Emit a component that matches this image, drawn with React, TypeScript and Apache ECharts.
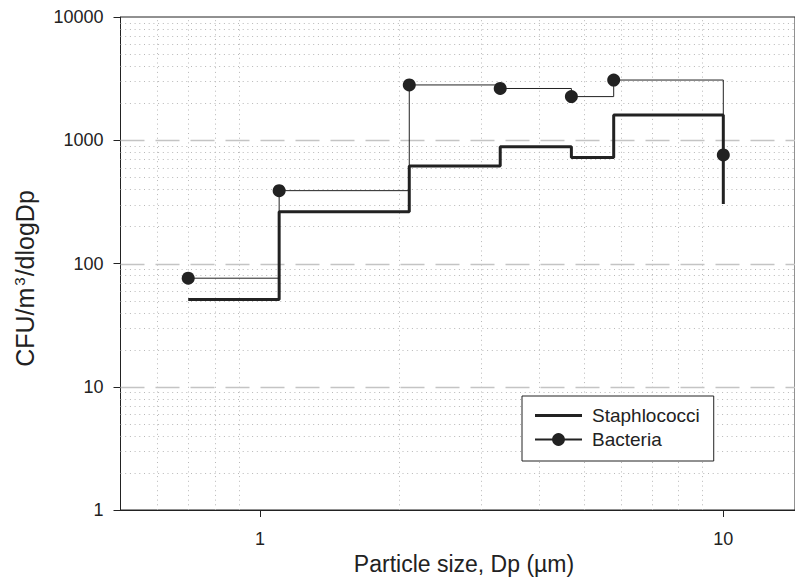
import React, { useEffect, useRef } from "react";
import * as echarts from "echarts";

// ---- data ----
const sizeEdges = [0.7, 1.1, 2.1, 3.3, 4.7, 5.8, 10];
const staphValues = [51, 263, 618, 885, 725, 1603, 304];
const bacteriaValues = [76, 390, 2810, 2630, 2260, 3080, 760];
const seriesNames = ["Staphlococci", "Bacteria"];
const xTickValues = [1, 10];
const xMinorGrid = [0.6, 0.7, 0.8, 0.9, 2, 3, 4, 5, 6, 7, 8, 9];
const yMinorGrid = [
  2, 3, 4, 5, 6, 7, 8, 9,
  20, 30, 40, 50, 60, 70, 80, 90,
  200, 300, 400, 500, 600, 700, 800, 900,
  2000, 3000, 4000, 5000, 6000, 7000, 8000, 9000,
];
const yMajorGrid = [10, 100, 1000];

const X_MIN = 0.5;
const X_MAX = 14.28;
const Y_MIN = 1;
const Y_MAX = 10000;

const FONT = "'Liberation Sans', Arial, Helvetica, sans-serif";
const INK = "#222";

const isPow10 = (v: number) => {
  const l = Math.log10(v);
  return Math.abs(l - Math.round(l)) < 1e-6;
};

const snap = (v: number) => Math.round(v) + 0.5;

export default function App() {
  const ref = useRef<HTMLDivElement>(null);

  useEffect(() => {
    if (!ref.current) return;
    const chart = echarts.init(ref.current, undefined, { renderer: "svg" });

    const vLine = (stroke: string, dash: number[]) => (params: any, api: any) => {
      const v = api.value(0);
      const p1 = api.coord([v, Y_MIN]);
      const p2 = api.coord([v, Y_MAX]);
      const x = snap(p1[0]);
      return {
        type: "line",
        silent: true,
        shape: { x1: x, y1: p1[1], x2: x, y2: p2[1] },
        style: { stroke, lineWidth: 1, lineDash: dash },
      };
    };
    const hLine = (stroke: string, dash: number[], width: number) => (params: any, api: any) => {
      const v = api.value(1);
      const p1 = api.coord([X_MIN, v]);
      const p2 = api.coord([X_MAX, v]);
      const y = snap(p1[1]);
      return {
        type: "line",
        silent: true,
        shape: { x1: p1[0], y1: y, x2: p2[0], y2: y },
        style: { stroke, lineWidth: width, lineDash: dash },
      };
    };
    const xTick = (params: any, api: any) => {
      const v = api.value(0);
      const p = api.coord([v, Y_MIN]);
      const x = snap(p[0]);
      return {
        type: "line",
        silent: true,
        shape: { x1: x, y1: p[1], x2: x, y2: p[1] + 7 },
        style: { stroke: INK, lineWidth: 1 },
      };
    };

    chart.setOption({
      animation: false,
      backgroundColor: "#fff",
      textStyle: { fontFamily: FONT },
      grid: {
        left: 120.5,
        top: 17,
        width: 674.5,
        height: 493,
        containLabel: false,
        outerBoundsMode: "none",
        show: true,
        borderColor: INK,
        borderWidth: 1,
        backgroundColor: "transparent",
      },
      xAxis: {
        type: "log",
        logBase: 10,
        min: X_MIN,
        max: X_MAX,
        name: "Particle size, Dp (µm)",
        nameLocation: "middle",
        nameGap: 40,
        nameTextStyle: { fontSize: 23, color: INK, fontFamily: FONT, padding: [0, 0, 0, 12.5] },
        axisLine: { show: true, lineStyle: { color: INK, width: 1 } },
        axisTick: { show: false },
        splitLine: { show: false },
        axisLabel: {
          fontSize: 18,
          color: INK,
          fontFamily: FONT,
          margin: 20,
          formatter: (v: number) => (isPow10(v) ? String(Math.round(v)) : ""),
        },
      },
      yAxis: {
        type: "log",
        logBase: 10,
        min: Y_MIN,
        max: Y_MAX,
        axisLine: { show: true, lineStyle: { color: INK, width: 1 } },
        axisTick: { show: true, length: 7, lineStyle: { color: INK, width: 1 } },
        splitLine: { show: false },
        axisLabel: {
          fontSize: 18,
          color: INK,
          fontFamily: FONT,
          margin: 17,
          formatter: (v: number) => String(Math.round(v)),
        },
      },
      legend: {
        data: [
          { name: seriesNames[0], icon: "path://M0,0L47,0L47,3L0,3Z" },
          { name: seriesNames[1] },
        ],
        orient: "vertical",
        left: 522,
        top: 396,
        z: 10,
        padding: [10, 14, 12, 12],
        itemGap: 5,
        itemWidth: 47,
        itemHeight: 16,
        symbolKeepAspect: true,
        backgroundColor: "#fff",
        borderColor: INK,
        borderWidth: 1,
        borderRadius: 0,
        textStyle: { fontSize: 19, color: INK, fontFamily: FONT, padding: [0, 0, 0, 5] },
      },
      graphic: [
        {
          type: "text",
          x: 25,
          y: 278.5,
          rotation: Math.PI / 2,
          style: {
            text: "CFU/m{sup|3}/dlogDp",
            fontSize: 25,
            fontFamily: FONT,
            fill: INK,
            align: "center",
            verticalAlign: "middle",
            textAlign: "center",
            textVerticalAlign: "middle",
            rich: {
              sup: {
                fontSize: 15,
                fontFamily: FONT,
                fill: INK,
                padding: [0, 1, 12, 2],
              },
            },
          },
        },
      ],
      series: [
        {
          name: "xMinor",
          type: "custom",
          z: 1,
          silent: true,
          renderItem: vLine("#b8b8b8", [1, 3.7]),
          data: xMinorGrid.map((v) => [v, Y_MIN]),
          encode: { x: 0, y: 1 },
        },
        {
          name: "yMinor",
          type: "custom",
          z: 1,
          silent: true,
          renderItem: hLine("#b8b8b8", [1, 3.7], 1),
          data: yMinorGrid.map((v) => [X_MIN, v]),
          encode: { x: 0, y: 1 },
        },
        {
          name: "yMajor",
          type: "custom",
          z: 1,
          silent: true,
          renderItem: hLine("#c4c4c4", [24, 11], 1.3),
          data: yMajorGrid.map((v) => [X_MIN, v]),
          encode: { x: 0, y: 1 },
        },
        {
          name: "xTicks",
          type: "custom",
          z: 3,
          silent: true,
          clip: false,
          renderItem: xTick,
          data: xTickValues.map((v) => [v, Y_MIN]),
          encode: { x: 0, y: 1 },
        },
        {
          name: seriesNames[0],
          type: "line",
          step: "end",
          z: 3,
          symbol: "none",
          color: INK,
          lineStyle: { color: INK, width: 3 },
          data: sizeEdges.map((x, i) => [x, staphValues[i]]),
        },
        {
          name: seriesNames[1],
          type: "line",
          step: "end",
          z: 4,
          symbol: "circle",
          symbolSize: 13,
          color: INK,
          itemStyle: { color: INK },
          lineStyle: { color: INK, width: 1 },
          data: sizeEdges.map((x, i) => [x, bacteriaValues[i]]),
        },
      ],
    });

    return () => chart.dispose();
  }, []);

  return (
    <div
      ref={ref}
      style={{ position: "absolute", left: 0, top: 0, width: 795, height: 577 }}
    />
  );
}
